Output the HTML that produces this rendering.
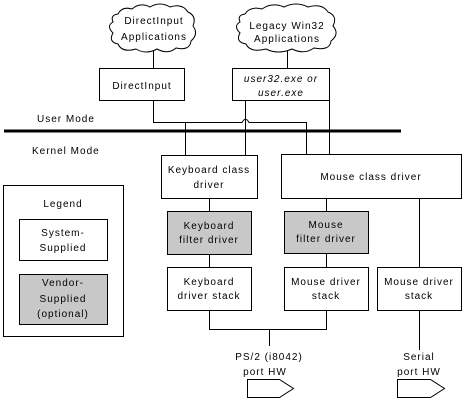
<!DOCTYPE html>
<html><head><style>
body{margin:0;background:#fff}
svg text{font-family:"Liberation Sans",sans-serif;font-size:10px;letter-spacing:1px;fill:#000}
</style></head><body>
<svg width="463" height="401" viewBox="0 0 463 401" xmlns="http://www.w3.org/2000/svg">
<g fill="#fff" stroke="#000" stroke-width="1">
<path d="M118,14 Q122,6 132,9 Q140,2 150,7 Q160,1 170,7 Q182,3 188,12 Q197,16 193,26 Q199,34 191,41 Q190,51 176,48 Q168,55 157,49 Q146,55 136,49 Q122,53 118,44 Q108,42 113,33 Q106,26 113,22 Q110,15 118,14 Z"/>
<path d="M245,14 Q250,6 262,9 Q272,2 284,7 Q296,1 308,7 Q322,3 328,12 Q338,16 333,26 Q340,34 331,41 Q330,51 314,48 Q304,55 292,49 Q278,55 266,49 Q250,53 246,44 Q235,42 240,33 Q233,26 240,22 Q237,15 245,14 Z"/>
</g>
<g fill="none" stroke="#000" stroke-width="1">
<path d="M153.5,51V68M287.5,51V68"/>
<path d="M153.5,100V122.5H242 Q245.5,116 249,122.5H306.5V154"/>
<path d="M185.5,122.5V155M245.5,100V155M329.5,100V154"/>
<path d="M209.5,198V211M209.5,254V267M326.5,198V211M326.5,253V267M419.5,198V267"/>
<path d="M209.5,310V329.5H326.5V310M269.5,329.5V346M419.5,310V350"/>
</g>
<rect x="4" y="129.5" width="397" height="3" fill="#000"/>
<g stroke="#000" stroke-width="1">
<rect x="99.5" y="68.5" width="85" height="32" fill="#fff"/>
<rect x="232.5" y="68.5" width="97" height="32" fill="#fff"/>
<rect x="161.5" y="155.5" width="96" height="43" fill="#fff"/>
<rect x="281.5" y="154.5" width="180" height="44" fill="#fff"/>
<rect x="3.5" y="185.5" width="120" height="151" fill="#fff"/>
<rect x="19.5" y="219.5" width="88" height="41" fill="#fff"/>
<rect x="19.5" y="274.5" width="88" height="50" fill="#c8c8c8"/>
<rect x="167.5" y="211.5" width="84" height="43" fill="#c8c8c8"/>
<rect x="284.5" y="211.5" width="84" height="42" fill="#c8c8c8"/>
<rect x="167.5" y="267.5" width="84" height="43" fill="#fff"/>
<rect x="284.5" y="267.5" width="84" height="43" fill="#fff"/>
<rect x="377.5" y="267.5" width="84" height="43" fill="#fff"/>
<path d="M247.5,379.5H279.5L293.5,388.5L279.5,397.5H247.5Z" fill="#fff"/>
<path d="M397.5,379.5H430.5L444.5,388.5L430.5,397.5H397.5Z" fill="#fff"/>
</g>
<g text-anchor="middle">
<text x="154" y="24">DirectInput</text>
<text x="154" y="40">Applications</text>
<text x="287" y="29">Legacy Win32</text>
<text x="287" y="42">Applications</text>
<text x="142" y="89">DirectInput</text>
<text x="281" y="82" font-style="italic">user32.exe or</text>
<text x="281" y="96" font-style="italic">user.exe</text>
<text x="209" y="173">Keyboard class</text>
<text x="209" y="188">driver</text>
<text x="371" y="180">Mouse class driver</text>
<text x="63" y="207">Legend</text>
<text x="63" y="236">System-</text>
<text x="63" y="251">Supplied</text>
<text x="63" y="286">Vendor-</text>
<text x="63" y="302">Supplied</text>
<text x="63" y="317">(optional)</text>
<text x="209" y="229">Keyboard</text>
<text x="209" y="243">filter driver</text>
<text x="326" y="228">Mouse</text>
<text x="326" y="242">filter driver</text>
<text x="209" y="285">Keyboard</text>
<text x="209" y="299">driver stack</text>
<text x="326" y="285">Mouse driver</text>
<text x="326" y="299">stack</text>
<text x="419" y="285">Mouse driver</text>
<text x="419" y="299">stack</text>
<text x="269" y="360">PS/2 (i8042)</text>
<text x="265" y="375">port HW</text>
<text x="419" y="360">Serial</text>
<text x="419" y="375">port HW</text>
</g>
<text x="37" y="122">User Mode</text>
<text x="32" y="154">Kernel Mode</text>
</svg>
</body></html>
